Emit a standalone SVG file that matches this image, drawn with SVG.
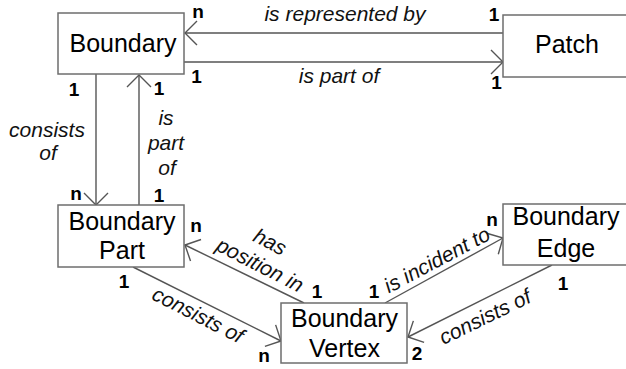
<svg xmlns="http://www.w3.org/2000/svg" width="626" height="369" viewBox="0 0 626 369">
<style>
.box{fill:#fff;stroke:#6e6e6e;stroke-width:1.5}
.nt{font-family:"Liberation Sans",Arial,sans-serif;font-size:25px;fill:#000;text-anchor:middle}
.lbl{font-family:"Liberation Sans",Arial,sans-serif;font-size:21px;font-style:italic;fill:#111;text-anchor:middle}
.m{font-family:"Liberation Sans",Arial,sans-serif;font-size:19px;font-weight:bold;fill:#000;text-anchor:middle}
.c{stroke:#555;stroke-width:1.4;fill:none;marker-end:url(#ah)}
</style>
<defs>
<marker id="ah" markerUnits="userSpaceOnUse" markerWidth="16" markerHeight="28" refX="13" refY="13" orient="auto" overflow="visible">
<path d="M1,1 L13,13 L1,25" fill="none" stroke="#555" stroke-width="1.4"/>
</marker>
</defs>
<g id="connectors">
<line class="c" x1="503" y1="33" x2="185" y2="33"/>
<line class="c" x1="184" y1="62" x2="503" y2="62"/>
<line class="c" x1="96" y1="74" x2="96" y2="205"/>
<line class="c" x1="139" y1="205" x2="139" y2="75"/>
<line class="c" x1="304" y1="303" x2="185" y2="245"/>
<line class="c" x1="133" y1="267" x2="281" y2="341"/>
<line class="c" x1="385" y1="303" x2="503" y2="238"/>
<line class="c" x1="552" y1="265" x2="408" y2="337"/>
<text class="lbl" x="345" y="21">is represented by</text>
<text class="lbl" x="339" y="83">is part of</text>
<text class="lbl" x="47" y="137">consists</text>
<text class="lbl" x="48" y="160">of</text>
<text class="lbl" x="166" y="125">is</text>
<text class="lbl" x="166" y="150">part</text>
<text class="lbl" x="167" y="175">of</text>
<text class="lbl" transform="translate(270,242) rotate(27)" y="7">has</text>
<text class="lbl" transform="translate(260,265) rotate(27)" y="7">position in</text>
<text class="lbl" transform="translate(198,315) rotate(27)" y="7">consists of</text>
<text class="lbl" transform="translate(437,260) rotate(-28)" y="7">is incident to</text>
<text class="lbl" transform="translate(485,317) rotate(-26)" y="7">consists of</text>
<text class="m" x="198" y="18">n</text>
<text class="m" x="196.5" y="83">1</text>
<text class="m" x="494" y="21">1</text>
<text class="m" x="496.5" y="89">1</text>
<text class="m" x="74" y="96">1</text>
<text class="m" x="159" y="95">1</text>
<text class="m" x="76" y="200">n</text>
<text class="m" x="159" y="202">1</text>
<text class="m" x="196" y="232">n</text>
<text class="m" x="124" y="288">1</text>
<text class="m" x="264" y="362">n</text>
<text class="m" x="317" y="298">1</text>
<text class="m" x="374" y="298">1</text>
<text class="m" x="492" y="226">n</text>
<text class="m" x="563" y="290">1</text>
<text class="m" x="417" y="360">2</text>
</g>
<g id="boundary">
<rect class="box" x="58" y="13" width="126" height="61"/>
<text class="nt" x="123" y="52">Boundary</text>
</g>
<g id="patch">
<rect class="box" x="503" y="15" width="130" height="62"/>
<text class="nt" x="567" y="53">Patch</text>
</g>
<g id="boundary-part">
<rect class="box" x="58" y="205" width="126" height="62"/>
<text class="nt" x="122" y="230">Boundary</text>
<text class="nt" x="122" y="259">Part</text>
</g>
<g id="boundary-edge">
<rect class="box" x="503" y="204" width="130" height="61"/>
<text class="nt" x="566" y="225">Boundary</text>
<text class="nt" x="566" y="257">Edge</text>
</g>
<g id="boundary-vertex">
<rect class="box" x="281" y="303" width="126" height="60"/>
<text class="nt" x="344.5" y="327">Boundary</text>
<text class="nt" x="344.5" y="357">Vertex</text>
</g>
</svg>
